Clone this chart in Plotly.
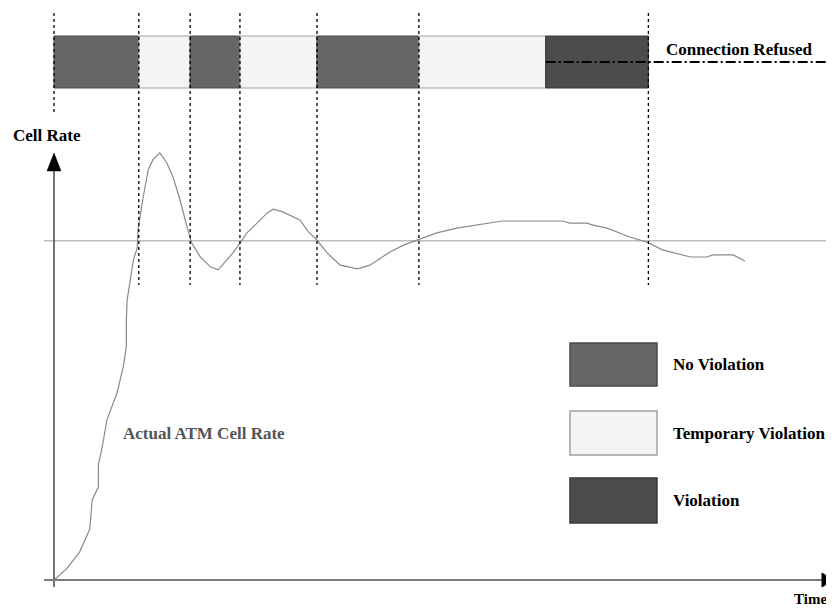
import plotly.graph_objects as go

# ---------------- data ----------------
# Actual ATM cell rate (time units, rate as % of contracted rate)
time = [0, 1.7, 3.3, 4.6, 4.9, 5.7, 5.7, 6.2, 6.8, 8.1, 8.9, 9.3, 9.3, 9.4, 10.2, 10.7,
        10.8, 11.4, 12.1, 12.7, 13.6, 14.5, 15.3, 16.2, 17.1, 17.7, 18.8, 20.1, 21.1,
        22.2, 23.0, 23.9, 24.8, 26.1, 27.4, 28.2, 29.4, 31.6, 32.7, 33.8, 35.1, 36.8,
        39.0, 40.6, 43.2, 44.9, 46.8, 49.2, 51.8, 54.8, 57.6, 65.4, 66.3, 68.5, 69.3,
        71.1, 74.0, 76.2, 78.2, 81.8, 83.9, 84.7, 87.3, 88.8]
cell_rate = [0, 3.5, 8.3, 15.0, 23.6, 27.4, 33.9, 39.2, 47.2, 55.1, 62.8, 68.7, 76.6,
             82.5, 94.3, 97.9, 103.2, 112.0, 120.8, 123.8, 125.9, 122.9, 118.8, 112.0,
             104.0, 99.3, 95.2, 92.3, 91.4, 94.3, 96.4, 99.3, 102.3, 105.2, 108.2, 109.3,
             108.5, 106.1, 102.6, 100.2, 96.4, 92.8, 91.7, 92.8, 96.7, 98.7, 100.2, 102.3,
             103.7, 104.9, 105.8, 105.8, 105.2, 105.2, 104.6, 103.7, 101.1, 99.6, 97.3,
             95.2, 95.2, 95.8, 95.8, 94.0]
contracted_rate = 100

# state strip
segment_start = [0, 10.9, 17.5, 23.9, 33.8, 46.9, 63.2]
segment_end = [10.9, 17.5, 23.9, 33.8, 46.9, 63.2, 76.4]
segment_state = ["No Violation", "Temporary Violation", "No Violation",
                 "Temporary Violation", "No Violation", "Temporary Violation", "Violation"]
crossing_times = [10.9, 17.5, 23.9, 33.8, 46.9, 76.4]
refused_from = 63.2

legend_states = ["No Violation", "Temporary Violation", "Violation"]

# ---------------- styling ----------------
# the page body has an 8px margin; the figure is shrunk and everything offset to compensate
OFF = 8
W, H = 834 - OFF, 609 - OFF
FONT = "Liberation Serif, Times New Roman, serif"
state_fill = {"No Violation": "#666666", "Temporary Violation": "#f4f4f4", "Violation": "#4c4c4c"}
state_line = {"No Violation": "#4a4a4a", "Temporary Violation": "#a0a0a0", "Violation": "#383838"}

def px(x):
    return (x - OFF) / W

def py(y):
    return 1 - (y - OFF) / H

# axis scale: t=0 at x=54px, t=100 at 832px ; rate 0 at y=580px, 100 at 240.7px (window pixels)
xs = 7.78
ys = 3.393
x0p = 54 - OFF
y0p = 580 - OFF
x_range = [-x0p / xs, (W - x0p) / xs]
y_range = [-(H - y0p) / ys, y0p / ys]

fig = go.Figure()

fig.add_trace(go.Scatter(x=time, y=cell_rate, mode="lines",
                         line=dict(color="#8a8a8a", width=1.2),
                         name="Actual ATM Cell Rate", showlegend=False))

shapes = []
# contracted rate reference line
shapes.append(dict(type="line", xref="paper", yref="y", x0=px(44), x1=1,
                   y0=contracted_rate, y1=contracted_rate,
                   line=dict(color="#bdbdbd", width=1.5), layer="below"))

# state strip
for s, e, st in zip(segment_start, segment_end, segment_state):
    shapes.append(dict(type="rect", xref="x", yref="paper", x0=s, x1=e,
                       y0=py(88), y1=py(36), fillcolor=state_fill[st],
                       line=dict(color=state_line[st], width=1)))

# dotted separators
shapes.append(dict(type="line", xref="x", yref="paper", x0=0, x1=0,
                   y0=py(13), y1=py(113), line=dict(color="black", width=1.3, dash="dot")))
for t in crossing_times:
    shapes.append(dict(type="line", xref="x", yref="paper", x0=t, x1=t,
                       y0=py(13), y1=py(285), line=dict(color="black", width=1.3, dash="dot")))

# connection refused dash-dot line
shapes.append(dict(type="line", xref="x", yref="paper", x0=refused_from, x1=x_range[1],
                   y0=py(62), y1=py(62),
                   line=dict(color="black", width=2, dash="10px,3px,2px,3px")))

# axes with arrows
shapes.append(dict(type="line", xref="paper", yref="paper", x0=px(54), x1=px(54),
                   y0=py(587), y1=py(168), line=dict(color="#444444", width=1.5)))
shapes.append(dict(type="path", xref="paper", yref="paper",
                   path=f"M {px(47)} {py(171)} L {px(61)} {py(171)} L {px(54)} {py(153)} Z",
                   fillcolor="black", line=dict(color="black", width=0.5)))
shapes.append(dict(type="line", xref="paper", yref="paper", x0=px(44), x1=px(824),
                   y0=py(580), y1=py(580), line=dict(color="#7a7a7a", width=2)))
shapes.append(dict(type="path", xref="paper", yref="paper",
                   path=f"M {px(822)} {py(573)} L {px(822)} {py(587)} L {px(833)} {py(580)} Z",
                   fillcolor="black", line=dict(color="black", width=1)))

# legend boxes
legend_y = [(343, 386), (411, 455), (478, 523)]
annotations = []
for st, (y0, y1) in zip(legend_states, legend_y):
    shapes.append(dict(type="rect", xref="paper", yref="paper", x0=px(570), x1=px(657),
                       y0=py(y1), y1=py(y0), fillcolor=state_fill[st],
                       line=dict(color=state_line[st], width=1.5)))
    annotations.append(dict(text=st, xref="paper", yref="paper", x=px(671), y=py((y0 + y1) / 2),
                            xanchor="left", yanchor="middle", showarrow=False,
                            font=dict(family=FONT, size=17, color="black", weight="bold")))

annotations += [
    dict(text="Cell Rate", x=px(11), y=py(135), xanchor="left", yanchor="middle",
         font=dict(family=FONT, size=17, color="black", weight="bold")),
    dict(text="Connection Refused", x=px(664), y=py(50), xanchor="left", yanchor="middle",
         font=dict(family=FONT, size=17, color="black", weight="bold")),
    dict(text="Actual ATM Cell Rate", x=px(121), y=py(433), xanchor="left", yanchor="middle",
         font=dict(family=FONT, size=17, color="#555555", weight="bold")),
    dict(text="Time", x=px(792), y=py(599), xanchor="left", yanchor="middle",
         font=dict(family=FONT, size=15, color="black", weight="bold")),
]
for a in annotations:
    a.setdefault("xref", "paper")
    a.setdefault("yref", "paper")
    a.setdefault("showarrow", False)

fig.update_layout(
    width=W, height=H,
    margin=dict(l=0, r=0, t=0, b=0),
    paper_bgcolor="white", plot_bgcolor="white",
    xaxis=dict(range=x_range, visible=False, domain=[0, 1]),
    yaxis=dict(range=y_range, visible=False, domain=[0, 1]),
    shapes=shapes, annotations=annotations, showlegend=False,
)

fig.write_html("out.html")
